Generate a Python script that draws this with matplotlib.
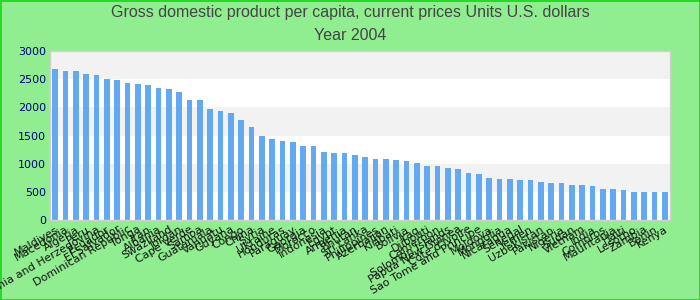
import matplotlib
matplotlib.use("Agg")
import matplotlib.pyplot as plt
import numpy as np

countries = [
    "Maldives", "Macedonia", "Algeria", "Peru", "Bosnia and Herzegovina",
    "Ecuador", "El Salvador", "Dominican Republic", "Tonga", "Iran",
    "Albania", "Swaziland", "Jordan", "Cape Verde", "Samoa",
    "Guatemala", "Vanuatu", "Guyana", "Congo", "China",
    "Syria", "Ukraine", "Honduras", "Paraguay", "Georgia",
    "Morocco", "Indonesia", "Egypt", "Armenia", "Bhutan",
    "Sri Lanka", "Philippines", "Azerbaijan", "Kiribati", "Bolivia",
    "Iraq", "Djibouti", "Cameroon", "Solomon Islands", "Papua New Guinea",
    "Côte d'Ivoire", "Sao Tome and Principe", "Moldova", "Mongolia", "Nicaragua",
    "Senegal", "Yemen", "Uzbekistan", "Pakistan", "Nigeria",
    "Sudan", "Vietnam", "India", "Comoros", "Mauritania",
    "Haiti", "Lesotho", "Zambia", "Benin", "Kenya",
]

gdp_2004 = [
    2682, 2647, 2647, 2593, 2575, 2504, 2487, 2433, 2416, 2398,
    2345, 2327, 2273, 2131, 2131, 1971, 1936, 1900, 1776, 1652,
    1492, 1439, 1403, 1385, 1314, 1314, 1208, 1190, 1190, 1154,
    1119, 1083, 1083, 1066, 1048, 1012, 959, 959, 923, 906,
    835, 817, 746, 728, 728, 710, 710, 675, 657, 657,
    622, 622, 604, 550, 550, 533, 497, 497, 497, 497,
]

y_ticks = [0, 500, 1000, 1500, 2000, 2500, 3000]

title = "Gross domestic product per capita, current prices Units U.S. dollars\nYear 2004"

fig = plt.figure(figsize=(7, 3), dpi=100)
fig.patch.set_facecolor("#90ee90")
fig.patch.set_edgecolor("#22dd22")
fig.patch.set_linewidth(2)

ax = fig.add_axes([50 / 700, 80 / 300, 620 / 700, 169 / 300])
ax.set_facecolor("white")

# alternating horizontal bands, shaded from the top down
for i in range(len(y_ticks) - 1):
    if (len(y_ticks) - 2 - i) % 2 == 0:
        ax.axhspan(y_ticks[i], y_ticks[i + 1], color="#f2f2f2", lw=0, zorder=0)

x = np.arange(len(countries))
ax.bar(x, gdp_2004, width=0.58, color="#62a9f2", zorder=2)

ax.set_xlim(-0.5, len(countries) - 0.5)
ax.set_ylim(0, 3000)
ax.set_yticks(y_ticks)
ax.set_yticklabels([str(t) for t in y_ticks], color="#000080", fontsize=8)
ax.set_xticks(x)
ax.set_xticklabels(countries, rotation=30, ha="right", rotation_mode="anchor",
                   fontsize=8, color="#111111")
ax.tick_params(axis="both", length=0, pad=3)

for s in ax.spines.values():
    s.set_color("#d0d0d0")
    s.set_linewidth(1)

fig.suptitle(title, y=0.985, fontsize=11.5, color="#444444", linespacing=1.75,
             family="Liberation Sans")

fig.savefig("out.png", dpi=100, facecolor=fig.get_facecolor(), edgecolor=fig.get_edgecolor())
